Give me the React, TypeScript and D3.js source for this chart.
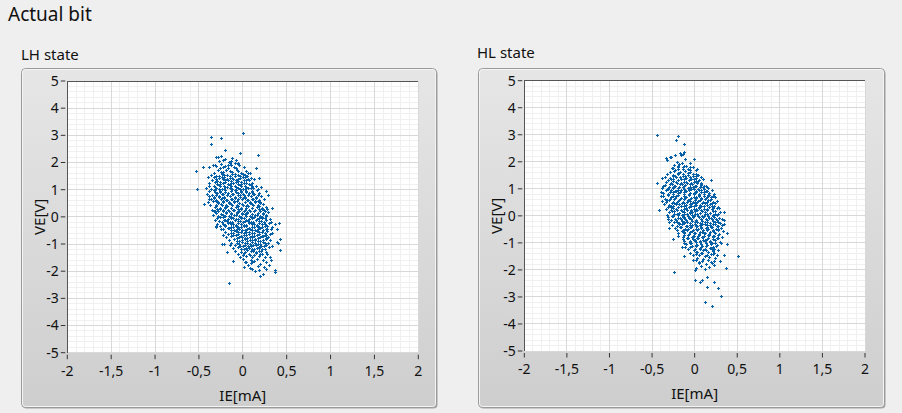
import React from 'react'
import * as d3 from 'd3'

// x ticks (IE in mA, decimal comma) and y ticks (VE in V)
const xTickValues = [-2, -1.5, -1, -0.5, 0, 0.5, 1, 1.5, 2]
const xTickLabels = ['-2', '-1,5', '-1', '-0,5', '0', '0,5', '1', '1,5', '2']
const yTickValues = [5, 4, 3, 2, 1, 0, -1, -2, -3, -4, -5]
const yTickLabels = ['5', '4', '3', '2', '1', '0', '-1', '-2', '-3', '-4', '-5']

// LH state: [IE, VE] samples, sparse fringe
const lhOuter: [number, number][] = [
  [0.0, 3.08], [-0.36, 2.93], [-0.25, 2.89], [-0.36, 2.67], [-0.2, 2.45], [-0.03, 2.34], [0.17, 2.27],
  [-0.28, 2.19], [-0.2, 2.12], [-0.13, 2.05], [-0.53, 1.68], [-0.45, 1.83], [-0.39, 1.83], [-0.34, 1.9],
  [-0.04, 1.9], [0.15, 1.79], [-0.52, 1.04], [-0.39, 0.66], [-0.44, 0.47], [0.06, 1.61], [0.18, 1.42],
  [0.21, 1.09], [0.26, 0.94], [0.29, 0.8], [-0.3, 2.22], [-0.32, 1.92],
  [-0.16, -2.44], [0.41, -0.21], [0.42, -1.21], [0.4, -0.97], [0.37, -1.95], [0.37, -2.02], [0.32, -1.59],
  [0.27, -1.93], [0.23, -2.1], [0.2, -2.17], [0.14, -2.01], [0.08, -1.89], [0.01, -1.84], [-0.11, -1.64],
  [-0.18, -1.31], [-0.24, -0.99], [-0.21, -0.99], [-0.32, 0.22], [-0.3, -0.33], [-0.25, -0.45], [0.09, -1.7],
  [0.04, -1.68], [0.1, -1.68], [0.33, -1.09], [0.31, -1.46], [0.33, 0.32], [0.28, 0.3], [0.37, -0.26],
  [0.39, -0.44], [0.42, -0.81], [0.39, -0.93], [-0.33, 0.21], [-0.32, -0.11], [-0.3, -0.36], [-0.24, -1.0],
]

// LH state: dense core
const lhCore: [number, number][] = [
  [-0.27, 2.04], [-0.22, 2.1], [-0.16, 2.01], [-0.08, 2.08], [-0.25, 2.25], [-0.12, 2.18], [-0.06, 2.0],
  [-0.33, 1.62], [-0.28, 1.71], [-0.22, 1.66], [-0.17, 1.78], [-0.12, 1.64], [-0.07, 1.72], [-0.02, 1.61],
  [0.04, 1.69], [0.08, 1.63], [-0.3, 1.88], [-0.25, 1.95], [-0.2, 1.86], [-0.15, 1.97], [-0.1, 1.84],
  [-0.05, 1.93], [0.01, 1.82], [-0.26, 1.8], [-0.13, 1.9], [-0.19, 1.74], [-0.09, 1.99],
  [-0.38, 1.23], [-0.32, 1.28], [-0.26, 1.22], [-0.2, 1.27], [-0.14, 1.24], [-0.08, 1.29], [-0.02, 1.21], [0.04, 1.26], [0.1, 1.23],
  [-0.35, 1.36], [-0.29, 1.33], [-0.23, 1.39], [-0.17, 1.34], [-0.11, 1.38], [-0.05, 1.32], [0.01, 1.37], [0.07, 1.34], [0.13, 1.38],
  [-0.4, 1.45], [-0.33, 1.48], [-0.27, 1.43], [-0.21, 1.47], [-0.15, 1.44], [-0.09, 1.49], [-0.03, 1.42], [0.03, 1.46], [0.09, 1.43],
  [-0.36, 1.55], [-0.3, 1.52], [-0.24, 1.58], [-0.18, 1.53], [-0.12, 1.57], [-0.06, 1.54], [0.0, 1.59], [0.05, 1.52],
  [-0.41, 0.85], [-0.35, 0.82], [-0.29, 0.88], [-0.23, 0.84], [-0.17, 0.89], [-0.11, 0.83], [-0.05, 0.87], [0.01, 0.82], [0.07, 0.88], [0.13, 0.84], [0.19, 0.86],
  [-0.38, 0.95], [-0.32, 0.98], [-0.26, 0.93], [-0.2, 0.97], [-0.14, 0.94], [-0.08, 0.99], [-0.02, 0.92], [0.04, 0.96], [0.1, 0.93], [0.16, 0.98],
  [-0.42, 1.06], [-0.36, 1.03], [-0.3, 1.08], [-0.24, 1.04], [-0.18, 1.09], [-0.12, 1.02], [-0.06, 1.07], [0.0, 1.03], [0.06, 1.08], [0.12, 1.05], [0.17, 1.02],
  [-0.39, 1.15], [-0.33, 1.12], [-0.27, 1.18], [-0.21, 1.13], [-0.15, 1.17], [-0.09, 1.14], [-0.03, 1.19], [0.03, 1.12], [0.09, 1.16], [0.15, 1.13],
  [-0.37, 0.45], [-0.31, 0.42], [-0.25, 0.48], [-0.19, 0.43], [-0.13, 0.47], [-0.07, 0.44], [-0.01, 0.49], [0.05, 0.42], [0.11, 0.46], [0.17, 0.43], [0.23, 0.48],
  [-0.4, 0.55], [-0.34, 0.58], [-0.28, 0.53], [-0.22, 0.57], [-0.16, 0.54], [-0.1, 0.59], [-0.04, 0.52], [0.02, 0.56], [0.08, 0.53], [0.14, 0.58], [0.2, 0.54],
  [-0.36, 0.65], [-0.3, 0.62], [-0.24, 0.68], [-0.18, 0.63], [-0.12, 0.67], [-0.06, 0.64], [0.0, 0.69], [0.06, 0.62], [0.12, 0.66], [0.18, 0.63], [0.24, 0.67],
  [-0.39, 0.75], [-0.33, 0.72], [-0.27, 0.78], [-0.21, 0.73], [-0.15, 0.77], [-0.09, 0.74], [-0.03, 0.79], [0.03, 0.72], [0.09, 0.76], [0.15, 0.73], [0.21, 0.78],
  [-0.34, 0.05], [-0.28, 0.02], [-0.22, 0.08], [-0.16, 0.03], [-0.1, 0.07], [-0.04, 0.04], [0.02, 0.09], [0.08, 0.02], [0.14, 0.06], [0.2, 0.03], [0.26, 0.08],
  [-0.31, 0.15], [-0.25, 0.12], [-0.19, 0.18], [-0.13, 0.13], [-0.07, 0.17], [-0.01, 0.14], [0.05, 0.19], [0.11, 0.12], [0.17, 0.16], [0.23, 0.13], [0.29, 0.18],
  [-0.35, 0.25], [-0.29, 0.28], [-0.23, 0.23], [-0.17, 0.27], [-0.11, 0.24], [-0.05, 0.29], [0.01, 0.22], [0.07, 0.26], [0.13, 0.23], [0.19, 0.28], [0.24, 0.24],
  [-0.32, 0.35], [-0.26, 0.32], [-0.2, 0.38], [-0.14, 0.33], [-0.08, 0.37], [-0.02, 0.34], [0.04, 0.39], [0.1, 0.32], [0.16, 0.36], [0.22, 0.33], [0.27, 0.38],
  [-0.29, -0.05], [-0.23, -0.02], [-0.17, -0.08], [-0.11, -0.03], [-0.05, -0.07], [0.01, -0.04], [0.07, -0.09], [0.13, -0.02], [0.19, -0.06], [0.25, -0.03], [0.31, -0.08],
  [-0.27, -0.15], [-0.21, -0.12], [-0.15, -0.18], [-0.09, -0.13], [-0.03, -0.17], [0.03, -0.14], [0.09, -0.19], [0.15, -0.12], [0.21, -0.16], [0.27, -0.13], [0.32, -0.18],
  [-0.29, -0.25], [-0.23, -0.28], [-0.17, -0.23], [-0.11, -0.27], [-0.05, -0.24], [0.01, -0.29], [0.07, -0.22], [0.13, -0.26], [0.19, -0.23], [0.25, -0.28], [0.3, -0.24],
  [-0.26, -0.35], [-0.2, -0.32], [-0.14, -0.38], [-0.08, -0.33], [-0.02, -0.37], [0.04, -0.34], [0.1, -0.39], [0.16, -0.32], [0.22, -0.36], [0.28, -0.33], [0.33, -0.38],
  [-0.22, -0.45], [-0.16, -0.42], [-0.1, -0.48], [-0.04, -0.43], [0.02, -0.47], [0.08, -0.44], [0.14, -0.49], [0.2, -0.42], [0.26, -0.46], [0.32, -0.43],
  [-0.2, -0.55], [-0.14, -0.58], [-0.08, -0.53], [-0.02, -0.57], [0.04, -0.54], [0.1, -0.59], [0.16, -0.52], [0.22, -0.56], [0.28, -0.53], [0.33, -0.58],
  [-0.23, -0.65], [-0.17, -0.62], [-0.11, -0.68], [-0.05, -0.63], [0.01, -0.67], [0.07, -0.64], [0.13, -0.69], [0.19, -0.62], [0.25, -0.66], [0.31, -0.63],
  [-0.19, -0.75], [-0.13, -0.72], [-0.07, -0.78], [-0.01, -0.73], [0.05, -0.77], [0.11, -0.74], [0.17, -0.79], [0.23, -0.72], [0.29, -0.76],
  [-0.16, -0.85], [-0.1, -0.82], [-0.04, -0.88], [0.02, -0.83], [0.08, -0.87], [0.14, -0.84], [0.2, -0.89], [0.26, -0.82], [0.31, -0.86],
  [-0.13, -0.95], [-0.07, -0.98], [-0.01, -0.93], [0.05, -0.97], [0.11, -0.94], [0.17, -0.99], [0.23, -0.92], [0.29, -0.96],
  [-0.15, -1.05], [-0.09, -1.02], [-0.03, -1.08], [0.03, -1.03], [0.09, -1.07], [0.15, -1.04], [0.21, -1.09], [0.27, -1.02],
  [-0.11, -1.15], [-0.05, -1.12], [0.01, -1.18], [0.07, -1.13], [0.13, -1.17], [0.19, -1.14], [0.25, -1.19], [0.3, -1.12],
  [-0.09, -1.25], [-0.02, -1.28], [0.05, -1.23], [0.12, -1.27], [0.19, -1.24], [0.26, -1.29], [-0.06, -1.37], [0.01, -1.34],
  [0.08, -1.39], [0.15, -1.33], [0.22, -1.38], [0.28, -1.35], [-0.03, -1.47], [0.04, -1.44], [0.11, -1.49], [0.18, -1.43],
  [0.25, -1.47], [0.0, -1.56], [0.09, -1.58], [0.16, -1.54], [0.23, -1.57],
  [0.02, -1.66], [0.13, -1.63], [0.2, -1.72], [0.26, -1.66], [0.06, -1.78], [0.17, -1.81], [0.24, -1.86], [0.11, -1.92], [0.3, -1.78], [0.19, -1.97],
]

// LH state: densest centre, between the core samples
const lhCentre: [number, number][] = [
  [-0.25, 1.65], [-0.15, 1.69], [-0.05, 1.67], [-0.22, 1.83], [-0.08, 1.8], [-0.17, 1.91],
  [-0.27, 1.5], [-0.21, 1.55], [-0.15, 1.51], [-0.09, 1.56], [-0.03, 1.5], [0.03, 1.55],
  [-0.3, 1.41], [-0.24, 1.45], [-0.18, 1.4], [-0.12, 1.44], [-0.06, 1.41], [0.0, 1.45], [0.06, 1.4],
  [-0.26, 1.3], [-0.2, 1.35], [-0.14, 1.31], [-0.08, 1.35], [-0.02, 1.3], [0.04, 1.34],
  [-0.29, 1.2], [-0.23, 1.24], [-0.17, 1.21], [-0.11, 1.25], [-0.05, 1.2], [0.01, 1.24], [0.07, 1.2],
  [-0.32, 1.1], [-0.26, 1.14], [-0.2, 1.11], [-0.14, 1.15], [-0.08, 1.1], [-0.02, 1.14], [0.04, 1.1], [0.1, 1.14],
  [-0.33, 1.0], [-0.27, 1.04], [-0.21, 1.01], [-0.15, 1.05], [-0.09, 1.0], [-0.03, 1.04], [0.03, 1.01], [0.09, 1.05],
  [-0.32, 0.9], [-0.26, 0.94], [-0.2, 0.91], [-0.14, 0.95], [-0.08, 0.9], [-0.02, 0.94], [0.04, 0.91], [0.1, 0.95],
  [-0.3, 0.8], [-0.24, 0.84], [-0.18, 0.81], [-0.12, 0.85], [-0.06, 0.8], [0.0, 0.84], [0.06, 0.81], [0.12, 0.85], [0.17, 0.8],
  [-0.33, 0.7], [-0.27, 0.74], [-0.21, 0.71], [-0.15, 0.75], [-0.09, 0.7], [-0.03, 0.74], [0.03, 0.71], [0.09, 0.75], [0.15, 0.7],
  [-0.31, 0.6], [-0.25, 0.64], [-0.19, 0.61], [-0.13, 0.65], [-0.07, 0.6], [-0.01, 0.64], [0.05, 0.61], [0.11, 0.65], [0.17, 0.6],
  [-0.28, 0.5], [-0.22, 0.54], [-0.16, 0.51], [-0.1, 0.55], [-0.04, 0.5], [0.02, 0.54], [0.08, 0.51], [0.14, 0.55], [0.2, 0.5],
  [-0.3, 0.4], [-0.24, 0.44], [-0.18, 0.41], [-0.12, 0.45], [-0.06, 0.4], [0.0, 0.44], [0.06, 0.41], [0.12, 0.45], [0.18, 0.4],
  [-0.26, 0.3], [-0.2, 0.34], [-0.14, 0.31], [-0.08, 0.35], [-0.02, 0.3], [0.04, 0.34], [0.1, 0.31], [0.16, 0.35], [0.22, 0.3],
  [-0.28, 0.2], [-0.22, 0.24], [-0.16, 0.21], [-0.1, 0.25], [-0.04, 0.2], [0.02, 0.24], [0.08, 0.21], [0.14, 0.25], [0.2, 0.2], [0.25, 0.23],
  [-0.25, 0.1], [-0.19, 0.14], [-0.13, 0.11], [-0.07, 0.15], [-0.01, 0.1], [0.05, 0.14], [0.11, 0.11], [0.17, 0.15], [0.23, 0.1],
  [-0.26, 0.0], [-0.2, 0.04], [-0.14, 0.01], [-0.08, 0.05], [-0.02, 0.0], [0.04, 0.04], [0.1, 0.01], [0.16, 0.05], [0.22, 0.0], [0.27, 0.03],
  [-0.2, -0.1], [-0.14, -0.06], [-0.08, -0.09], [-0.02, -0.05], [0.04, -0.1], [0.1, -0.06], [0.16, -0.09], [0.22, -0.05], [0.27, -0.1],
  [-0.24, -0.2], [-0.18, -0.16], [-0.12, -0.19], [-0.06, -0.15], [0.0, -0.2], [0.06, -0.16], [0.12, -0.19], [0.18, -0.15], [0.24, -0.2],
  [-0.2, -0.3], [-0.14, -0.26], [-0.08, -0.29], [-0.02, -0.25], [0.04, -0.3], [0.1, -0.26], [0.16, -0.29], [0.22, -0.25], [0.27, -0.3],
  [-0.17, -0.4], [-0.11, -0.36], [-0.05, -0.39], [0.01, -0.35], [0.07, -0.4], [0.13, -0.36], [0.19, -0.39], [0.25, -0.35],
  [-0.13, -0.5], [-0.07, -0.46], [-0.01, -0.49], [0.05, -0.45], [0.11, -0.5], [0.17, -0.46], [0.23, -0.49], [0.28, -0.45],
  [-0.11, -0.6], [-0.05, -0.56], [0.01, -0.59], [0.07, -0.55], [0.13, -0.6], [0.19, -0.56], [0.25, -0.59],
  [-0.14, -0.7], [-0.08, -0.66], [-0.02, -0.69], [0.04, -0.65], [0.1, -0.7], [0.16, -0.66], [0.22, -0.69], [0.27, -0.65],
  [-0.1, -0.8], [-0.04, -0.76], [0.02, -0.79], [0.08, -0.75], [0.14, -0.8], [0.2, -0.76], [0.26, -0.79],
  [-0.07, -0.9], [-0.01, -0.86], [0.05, -0.89], [0.11, -0.85], [0.17, -0.9], [0.23, -0.86],
  [-0.04, -1.0], [0.02, -0.96], [0.08, -0.99], [0.14, -0.95], [0.2, -1.0], [0.25, -0.96],
  [-0.06, -1.1], [0.0, -1.06], [0.06, -1.09], [0.12, -1.05], [0.18, -1.1], [0.24, -1.06],
  [-0.02, -1.2], [0.04, -1.16], [0.1, -1.19], [0.16, -1.15], [0.22, -1.2],
  [0.02, -1.3], [0.09, -1.26], [0.15, -1.31], [0.21, -1.27], [0.0, -1.41], [0.07, -1.36], [0.13, -1.42], [0.2, -1.38],
]

// HL state: sparse fringe
const hlOuter: [number, number][] = [
  [-0.44, 2.98], [-0.2, 2.94], [-0.22, 2.79], [-0.12, 2.64], [-0.12, 2.37], [-0.17, 2.31], [-0.23, 2.26], [-0.16, 2.25],
  [-0.28, 2.16], [-0.29, 2.18], [-0.34, 2.13], [-0.33, 2.05], [-0.01, 2.11], [-0.11, 2.11], [-0.14, 2.27], [-0.44, 1.2],
  [-0.38, 1.39], [-0.37, 1.09], [-0.39, 0.89], [-0.39, 0.73], [-0.42, 0.21], [-0.34, 0.5], [-0.26, -0.87], [-0.24, -2.08],
  [0.51, -1.49], [0.08, 1.45], [0.19, 1.31], [0.14, 1.08], [0.23, 0.8], [0.26, 0.55], [0.29, 0.3], [0.34, 0.15],
  [0.35, -0.16], [0.34, -0.31], [0.38, -0.65], [0.38, -1.03], [0.28, -1.27], [0.34, -1.45], [0.37, -1.92], [0.3, -1.67],
  [0.23, -1.8], [0.23, -2.44], [0.27, -2.68], [0.31, -2.98], [0.2, -3.35], [0.12, -3.2], [0.14, -2.65], [0.0, -2.39],
  [0.06, -2.44], [0.09, -2.39], [0.15, -2.25], [0.02, -1.94], [0.0, -2.02], [-0.13, -1.49], [-0.02, -1.63], [0.05, -1.7],
  [0.19, -1.72], [-0.13, -0.99], [-0.15, -1.14], [-0.3, -0.46], [-0.31, -0.12], [-0.28, 0.34], [-0.2, 1.79], [-0.27, 1.76],
  [-0.06, 1.82], [0.03, 1.72],
]

// HL state: dense core
const hlCore: [number, number][] = [
  [-0.29, 1.63], [-0.23, 1.68], [-0.17, 1.62], [-0.11, 1.67], [-0.05, 1.64], [0.01, 1.69], [-0.26, 1.78], [-0.2, 1.74],
  [-0.14, 1.79], [-0.08, 1.75], [-0.02, 1.8], [-0.24, 1.88], [-0.18, 1.92], [-0.12, 1.86], [-0.06, 1.95], [-0.21, 2.0],
  [-0.34, 1.24], [-0.28, 1.21], [-0.22, 1.27], [-0.16, 1.22], [-0.1, 1.26], [-0.04, 1.23], [0.02, 1.28], [0.08, 1.21],
  [-0.31, 1.33], [-0.25, 1.37], [-0.19, 1.32], [-0.13, 1.36], [-0.07, 1.31], [-0.01, 1.38], [0.05, 1.34], [0.1, 1.37],
  [-0.35, 1.44], [-0.29, 1.41], [-0.23, 1.47], [-0.17, 1.42], [-0.11, 1.46], [-0.05, 1.43], [0.01, 1.48], [0.07, 1.42],
  [-0.32, 1.55], [-0.26, 1.52], [-0.2, 1.57], [-0.14, 1.53], [-0.08, 1.58], [-0.02, 1.54], [0.04, 1.51],
  [-0.37, 0.84], [-0.31, 0.81], [-0.25, 0.87], [-0.19, 0.83], [-0.13, 0.88], [-0.07, 0.82], [-0.01, 0.86], [0.05, 0.81], [0.11, 0.87], [0.17, 0.84],
  [-0.34, 0.94], [-0.28, 0.97], [-0.22, 0.92], [-0.16, 0.96], [-0.1, 0.93], [-0.04, 0.98], [0.02, 0.91], [0.08, 0.95], [0.14, 0.92], [0.2, 0.97],
  [-0.38, 1.04], [-0.32, 1.01], [-0.26, 1.07], [-0.2, 1.03], [-0.14, 1.08], [-0.08, 1.02], [-0.02, 1.06], [0.04, 1.01], [0.1, 1.07], [0.16, 1.04],
  [-0.35, 1.14], [-0.29, 1.17], [-0.23, 1.12], [-0.17, 1.16], [-0.11, 1.13], [-0.05, 1.18], [0.01, 1.11], [0.07, 1.15], [0.13, 1.12],
  [-0.36, 0.44], [-0.3, 0.41], [-0.24, 0.47], [-0.18, 0.43], [-0.12, 0.48], [-0.06, 0.42], [0.0, 0.46], [0.06, 0.41], [0.12, 0.47], [0.18, 0.44], [0.24, 0.48],
  [-0.38, 0.54], [-0.32, 0.57], [-0.26, 0.52], [-0.2, 0.56], [-0.14, 0.53], [-0.08, 0.58], [-0.02, 0.51], [0.04, 0.55], [0.1, 0.52], [0.16, 0.57], [0.22, 0.53],
  [-0.35, 0.64], [-0.29, 0.61], [-0.23, 0.67], [-0.17, 0.63], [-0.11, 0.68], [-0.05, 0.62], [0.01, 0.66], [0.07, 0.61], [0.13, 0.67], [0.19, 0.64], [0.24, 0.68],
  [-0.37, 0.74], [-0.31, 0.77], [-0.25, 0.72], [-0.19, 0.76], [-0.13, 0.73], [-0.07, 0.78], [-0.01, 0.71], [0.05, 0.75], [0.11, 0.72], [0.17, 0.77], [0.21, 0.73],
  [-0.33, 0.04], [-0.27, 0.01], [-0.21, 0.07], [-0.15, 0.03], [-0.09, 0.08], [-0.03, 0.02], [0.03, 0.06], [0.09, 0.01], [0.15, 0.07], [0.21, 0.04], [0.27, 0.08],
  [-0.3, 0.14], [-0.24, 0.17], [-0.18, 0.12], [-0.12, 0.16], [-0.06, 0.13], [0.0, 0.18], [0.06, 0.11], [0.12, 0.15], [0.18, 0.12], [0.24, 0.17], [0.3, 0.13],
  [-0.34, 0.24], [-0.28, 0.21], [-0.22, 0.27], [-0.16, 0.23], [-0.1, 0.28], [-0.04, 0.22], [0.02, 0.26], [0.08, 0.21], [0.14, 0.27], [0.2, 0.24], [0.26, 0.28],
  [-0.31, 0.34], [-0.25, 0.37], [-0.19, 0.32], [-0.13, 0.36], [-0.07, 0.33], [-0.01, 0.38], [0.05, 0.31], [0.11, 0.35], [0.17, 0.32], [0.23, 0.37], [0.28, 0.33],
  [-0.31, -0.04], [-0.25, -0.01], [-0.19, -0.07], [-0.13, -0.03], [-0.07, -0.08], [-0.01, -0.02], [0.05, -0.06], [0.11, -0.01], [0.17, -0.07], [0.23, -0.04], [0.29, -0.08],
  [-0.28, -0.14], [-0.22, -0.17], [-0.16, -0.12], [-0.1, -0.16], [-0.04, -0.13], [0.02, -0.18], [0.08, -0.11], [0.14, -0.15], [0.2, -0.12], [0.26, -0.17], [0.32, -0.13],
  [-0.3, -0.24], [-0.24, -0.21], [-0.18, -0.27], [-0.12, -0.23], [-0.06, -0.28], [0.0, -0.22], [0.06, -0.26], [0.12, -0.21], [0.18, -0.27], [0.24, -0.24], [0.3, -0.28],
  [-0.27, -0.34], [-0.21, -0.37], [-0.15, -0.32], [-0.09, -0.36], [-0.03, -0.33], [0.03, -0.38], [0.09, -0.31], [0.15, -0.35], [0.21, -0.32], [0.27, -0.37], [0.32, -0.33],
  [-0.23, -0.44], [-0.17, -0.41], [-0.11, -0.47], [-0.05, -0.43], [0.01, -0.48], [0.07, -0.42], [0.13, -0.46], [0.19, -0.41], [0.25, -0.47], [0.31, -0.44],
  [-0.21, -0.54], [-0.15, -0.57], [-0.09, -0.52], [-0.03, -0.56], [0.03, -0.53], [0.09, -0.58], [0.15, -0.51], [0.21, -0.55], [0.27, -0.52], [0.33, -0.57],
  [-0.19, -0.64], [-0.13, -0.61], [-0.07, -0.67], [-0.01, -0.63], [0.05, -0.68], [0.11, -0.62], [0.17, -0.66], [0.23, -0.61], [0.29, -0.67],
  [-0.2, -0.74], [-0.14, -0.77], [-0.08, -0.72], [-0.02, -0.76], [0.04, -0.73], [0.1, -0.78], [0.16, -0.71], [0.22, -0.75], [0.28, -0.72], [0.32, -0.77],
  [-0.14, -0.84], [-0.08, -0.81], [-0.02, -0.87], [0.04, -0.83], [0.1, -0.88], [0.16, -0.82], [0.22, -0.86], [0.28, -0.81],
  [-0.12, -0.94], [-0.06, -0.97], [0.0, -0.92], [0.06, -0.96], [0.12, -0.93], [0.18, -0.98], [0.24, -0.91], [0.3, -0.95],
  [-0.1, -1.04], [-0.04, -1.01], [0.02, -1.07], [0.08, -1.03], [0.14, -1.08], [0.2, -1.02], [0.26, -1.06], [0.31, -1.01],
  [-0.11, -1.14], [-0.05, -1.17], [0.01, -1.12], [0.07, -1.16], [0.13, -1.13], [0.19, -1.18], [0.25, -1.11],
  [-0.08, -1.24], [-0.01, -1.27], [0.06, -1.22], [0.13, -1.26], [0.2, -1.23], [0.27, -1.28], [-0.05, -1.36], [0.02, -1.33],
  [0.09, -1.38], [0.16, -1.32], [0.23, -1.37], [-0.02, -1.46], [0.05, -1.43], [0.12, -1.48], [0.19, -1.42], [0.26, -1.46],
  [0.03, -1.55], [0.1, -1.58], [0.17, -1.53], [0.24, -1.57],
  [0.01, -1.65], [0.09, -1.68], [0.16, -1.63], [0.23, -1.67], [0.05, -1.76], [0.13, -1.79], [0.2, -1.74], [0.08, -1.86], [0.17, -1.88], [0.12, -1.97],
]

// HL state: densest centre, between the core samples
const hlCentre: [number, number][] = [
  [-0.24, 1.66], [-0.14, 1.72], [-0.06, 1.7], [-0.2, 1.84], [-0.1, 1.83], [-0.15, 1.95],
  [-0.26, 1.49], [-0.2, 1.53], [-0.14, 1.48], [-0.08, 1.52], [-0.02, 1.47], [0.02, 1.56],
  [-0.28, 1.38], [-0.22, 1.42], [-0.16, 1.37], [-0.1, 1.41], [-0.04, 1.36], [0.02, 1.4],
  [-0.25, 1.28], [-0.19, 1.32], [-0.13, 1.27], [-0.07, 1.31], [-0.01, 1.26], [0.04, 1.3],
  [-0.27, 1.18], [-0.21, 1.22], [-0.15, 1.17], [-0.09, 1.21], [-0.03, 1.16], [0.03, 1.2], [0.08, 1.17],
  [-0.3, 1.08], [-0.24, 1.12], [-0.18, 1.07], [-0.12, 1.11], [-0.06, 1.06], [0.0, 1.1], [0.06, 1.06], [0.11, 1.1],
  [-0.31, 0.98], [-0.25, 1.02], [-0.19, 0.97], [-0.13, 1.01], [-0.07, 0.96], [-0.01, 1.0], [0.05, 0.97], [0.11, 1.01],
  [-0.29, 0.88], [-0.23, 0.92], [-0.17, 0.87], [-0.11, 0.91], [-0.05, 0.86], [0.01, 0.9], [0.07, 0.87], [0.13, 0.91],
  [-0.31, 0.78], [-0.25, 0.82], [-0.19, 0.77], [-0.13, 0.81], [-0.07, 0.76], [-0.01, 0.8], [0.05, 0.77], [0.11, 0.81], [0.16, 0.78],
  [-0.28, 0.68], [-0.22, 0.72], [-0.16, 0.67], [-0.1, 0.71], [-0.04, 0.66], [0.02, 0.7], [0.08, 0.67], [0.14, 0.71], [0.19, 0.68],
  [-0.3, 0.58], [-0.24, 0.62], [-0.18, 0.57], [-0.12, 0.61], [-0.06, 0.56], [0.0, 0.6], [0.06, 0.57], [0.12, 0.61], [0.18, 0.58],
  [-0.27, 0.48], [-0.21, 0.52], [-0.15, 0.47], [-0.09, 0.51], [-0.03, 0.46], [0.03, 0.5], [0.09, 0.47], [0.15, 0.51], [0.2, 0.48],
  [-0.28, 0.38], [-0.22, 0.42], [-0.16, 0.37], [-0.1, 0.41], [-0.04, 0.36], [0.02, 0.4], [0.08, 0.37], [0.14, 0.41], [0.2, 0.38],
  [-0.25, 0.28], [-0.19, 0.32], [-0.13, 0.27], [-0.07, 0.31], [-0.01, 0.26], [0.05, 0.3], [0.11, 0.27], [0.17, 0.31], [0.22, 0.28],
  [-0.27, 0.18], [-0.21, 0.22], [-0.15, 0.17], [-0.09, 0.21], [-0.03, 0.16], [0.03, 0.2], [0.09, 0.17], [0.15, 0.21], [0.21, 0.18],
  [-0.24, 0.08], [-0.18, 0.12], [-0.12, 0.07], [-0.06, 0.11], [0.0, 0.06], [0.06, 0.1], [0.12, 0.07], [0.18, 0.11], [0.24, 0.08],
  [-0.26, -0.02], [-0.2, 0.02], [-0.14, -0.03], [-0.08, 0.01], [-0.02, -0.04], [0.04, 0.0], [0.1, -0.03], [0.16, 0.01], [0.22, -0.02], [0.26, 0.02],
  [-0.23, -0.12], [-0.17, -0.08], [-0.11, -0.13], [-0.05, -0.09], [0.01, -0.14], [0.07, -0.1], [0.13, -0.13], [0.19, -0.09], [0.25, -0.12],
  [-0.21, -0.22], [-0.15, -0.18], [-0.09, -0.23], [-0.03, -0.19], [0.03, -0.24], [0.09, -0.2], [0.15, -0.23], [0.21, -0.19], [0.27, -0.22],
  [-0.18, -0.32], [-0.12, -0.28], [-0.06, -0.33], [0.0, -0.29], [0.06, -0.34], [0.12, -0.3], [0.18, -0.33], [0.24, -0.29],
  [-0.16, -0.42], [-0.1, -0.38], [-0.04, -0.43], [0.02, -0.39], [0.08, -0.44], [0.14, -0.4], [0.2, -0.43], [0.26, -0.39],
  [-0.14, -0.52], [-0.08, -0.48], [-0.02, -0.53], [0.04, -0.49], [0.1, -0.54], [0.16, -0.5], [0.22, -0.53], [0.27, -0.49],
  [-0.12, -0.62], [-0.06, -0.58], [0.0, -0.63], [0.06, -0.59], [0.12, -0.64], [0.18, -0.6], [0.24, -0.63],
  [-0.13, -0.72], [-0.07, -0.68], [-0.01, -0.73], [0.05, -0.69], [0.11, -0.74], [0.17, -0.7], [0.23, -0.73], [0.27, -0.69],
  [-0.09, -0.82], [-0.03, -0.78], [0.03, -0.83], [0.09, -0.79], [0.15, -0.84], [0.21, -0.8], [0.26, -0.83],
  [-0.06, -0.92], [0.0, -0.88], [0.06, -0.93], [0.12, -0.89], [0.18, -0.94], [0.24, -0.9],
  [-0.05, -1.02], [0.01, -0.98], [0.07, -1.03], [0.13, -0.99], [0.19, -1.04], [0.24, -1.0],
  [-0.03, -1.12], [0.03, -1.08], [0.09, -1.13], [0.15, -1.09], [0.21, -1.14],
  [0.0, -1.22], [0.06, -1.18], [0.12, -1.23], [0.18, -1.19], [0.23, -1.22],
  [0.03, -1.32], [0.1, -1.28], [0.16, -1.33], [0.21, -1.29], [0.01, -1.42], [0.08, -1.39], [0.15, -1.44], [0.21, -1.4],
]

const FONT = "'Segoe UI', 'Noto Sans', 'Open Sans', sans-serif"
const POINT = '#0560a6'

interface PanelProps {
  title: string
  titleX: number
  titleY: number
  frame: { x: number; y: number; w: number; h: number }
  plot: { x0: number; x1: number; y0: number; y1: number }
  points: [number, number][]
}

const Panel: React.FC<PanelProps> = ({ title, titleX, titleY, frame, plot, points }) => {
  const x = d3.scaleLinear().domain([-2, 2]).range([plot.x0, plot.x1])
  const y = d3.scaleLinear().domain([-5, 5]).range([plot.y1, plot.y0])

  const minorX = d3.range(-20, 21).map(i => i / 10)
  const minorY = d3.range(-25, 26).map(i => i / 5)

  // small "+" markers, snapped to the pixel grid
  const marks = points.map(([a, b]) => {
    const cx = Math.round(x(a)) + 0.5
    const cy = Math.round(y(b)) + 0.5
    return `M${cx - 1.5},${cy}H${cx + 1.5}M${cx},${cy - 1.5}V${cy + 1.5}`
  }).join('')

  const cxMid = (plot.x0 + plot.x1) / 2
  const cyMid = (plot.y0 + plot.y1) / 2

  return (
    <g>
      <text x={titleX} y={titleY} fontSize={15} fill="#111">{title}</text>

      {/* frame */}
      <rect x={frame.x + 1} y={frame.y + 1} width={frame.w} height={frame.h} rx={4} fill="#a4a4a4" />
      <rect x={frame.x} y={frame.y} width={frame.w} height={frame.h} rx={4}
        fill="url(#frameGrad)" stroke="#9a9a9a" strokeWidth={1} />
      <rect x={frame.x + 1} y={frame.y + 1} width={frame.w - 2} height={frame.h - 2} rx={3}
        fill="none" stroke="#f4f4f4" strokeWidth={1} />

      {/* plot area */}
      <rect x={plot.x0} y={plot.y0} width={plot.x1 - plot.x0} height={plot.y1 - plot.y0} fill="#fff" />
      <g shapeRendering="crispEdges">
        {minorX.map(v => (
          <line key={'mx' + v} x1={x(v)} x2={x(v)} y1={plot.y0} y2={plot.y1} stroke="#f0f0f0" />
        ))}
        {minorY.map(v => (
          <line key={'my' + v} y1={y(v)} y2={y(v)} x1={plot.x0} x2={plot.x1} stroke="#f0f0f0" />
        ))}
        {xTickValues.map(v => (
          <line key={'gx' + v} x1={x(v)} x2={x(v)} y1={plot.y0} y2={plot.y1} stroke="#d8d8d8" />
        ))}
        {yTickValues.map(v => (
          <line key={'gy' + v} y1={y(v)} y2={y(v)} x1={plot.x0} x2={plot.x1} stroke="#d8d8d8" />
        ))}
        <line x1={plot.x0} x2={plot.x1} y1={plot.y0} y2={plot.y0} stroke="#555" />
        <line x1={plot.x0} x2={plot.x0} y1={plot.y0} y2={plot.y1} stroke="#555" />
      </g>

      <path d={marks} stroke={POINT} strokeWidth={1} fill="none" shapeRendering="crispEdges" />

      {/* y axis */}
      {yTickValues.map((v, i) => (
        <g key={'yt' + v}>
          <line x1={plot.x0 - 6.5} x2={plot.x0 - 2} y1={y(v)} y2={y(v)} stroke="#333" />
          <text x={plot.x0 - 8.5} y={y(v)} dy="0.35em" textAnchor="end" fontSize={14} fill="#111">
            {yTickLabels[i]}
          </text>
        </g>
      ))}

      {/* x axis */}
      {xTickValues.map((v, i) => (
        <g key={'xt' + v}>
          <line x1={x(v)} x2={x(v)} y1={plot.y1 + 2} y2={plot.y1 + 6.5} stroke="#333" />
          <text x={x(v)} y={plot.y1 + 23} textAnchor="middle" fontSize={14} fill="#111">
            {xTickLabels[i]}
          </text>
        </g>
      ))}

      <text x={cxMid} y={plot.y1 + 48} textAnchor="middle" fontSize={15} fill="#111">IE[mA]</text>
      <text transform={`translate(${plot.x0 - 22},${cyMid}) rotate(-90)`} textAnchor="middle"
        fontSize={15} fill="#111">VE[V]</text>
    </g>
  )
}

const App: React.FC = () => {
  return (
    <div style={{ position: 'absolute', left: 0, top: 0 }}>
      <svg width={902} height={413} fontFamily={FONT} style={{ display: 'block' }}>
        <defs>
          <linearGradient id="frameGrad" x1="0" y1="0" x2="0" y2="1">
            <stop offset="0%" stopColor="#e6e6e6" />
            <stop offset="100%" stopColor="#cecece" />
          </linearGradient>
        </defs>
        <rect width={902} height={413} fill="#efefef" />
        <text x={8} y={21} fontSize={19} fill="#111">Actual bit</text>

        <Panel title="LH state" titleX={21} titleY={60}
          frame={{ x: 21.5, y: 68.5, w: 415, h: 339 }}
          plot={{ x0: 67.3, x1: 418.3, y0: 81, y1: 352.7 }}
          points={[...lhCore, ...lhCentre, ...lhOuter]} />

        <Panel title="HL state" titleX={477} titleY={58}
          frame={{ x: 478.5, y: 68.5, w: 406, h: 339 }}
          plot={{ x0: 524.3, x1: 865, y0: 80.7, y1: 351 }}
          points={[...hlCore, ...hlCentre, ...hlOuter]} />
      </svg>
    </div>
  )
}

export default App
